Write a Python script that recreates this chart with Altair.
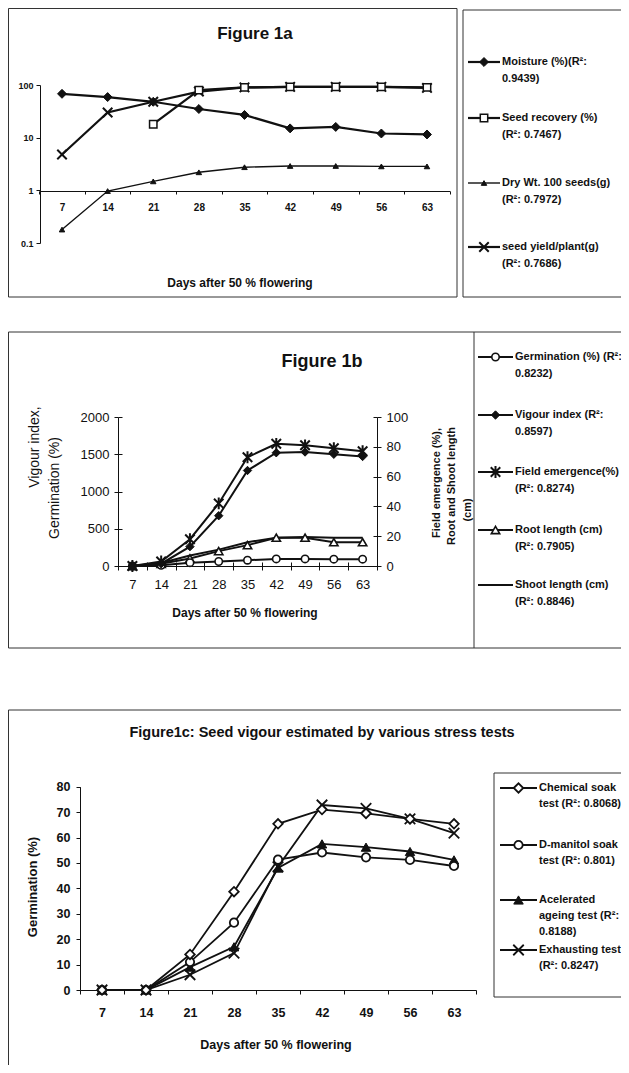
import altair as alt
import pandas as pd

# ---------------- data ----------------
days = [7, 14, 21, 28, 35, 42, 49, 56, 63]

# Figure 1a
moisture = [68, 59, 48, 35, 27, 15, 16, 12, 11.5]
recovery_days = [21, 28, 35, 42, 49, 56, 63]
seed_recovery = [18, 80, 90, 92, 92, 92, 90]
dry_wt = [0.18, 0.97, 1.48, 2.2, 2.75, 2.9, 2.9, 2.85, 2.85]
seed_yield = [4.8, 30, 48, 75, 90, 92, 92, 92, 88]

# Figure 1b
germination_b = [0, 10, 45, 60, 78, 95, 95, 92, 92]
vigour_index = [0, 31, 260, 675, 1282, 1520, 1530, 1500, 1470]
field_emergence = [0, 3, 18, 42, 73, 82, 81, 79, 77]
root_length = [0, 1.5, 5, 10, 14, 19, 19, 16, 16]
shoot_length = [0, 2, 7, 11, 16, 19, 19.5, 19, 19]

# Figure 1c
chemical_soak = [0, 0, 14, 38.7, 65.4, 71, 69.5, 67.3, 65.4]
d_manitol_soak = [0, 0, 11, 26.5, 51.3, 54.1, 52.2, 51.2, 48.8]
accelerated_ageing = [0, 0, 9, 17, 48, 57.5, 56.2, 54.5, 51.2]
exhausting = [0, 0, 6, 14.5, 48.5, 72.8, 71.5, 67.3, 61.7]

# tick values
log_ticks = [0.1, 1, 10, 100]
left_ticks_b = [0, 500, 1000, 1500, 2000]
right_ticks_b = [0, 20, 40, 60, 80, 100]
ticks_c = [0, 10, 20, 30, 40, 50, 60, 70, 80]
boundaries = [d - 3.5 for d in days] + [days[-1] + 3.5]

# texts
title_a = "Figure 1a"
title_b = "Figure 1b"
title_c = "Figure1c: Seed vigour estimated by various stress tests"
x_title = "Days after 50 % flowering"
legend_a = [["Moisture (%)(R\u00b2:", "0.9439)"],
            ["Seed recovery (%)", "(R\u00b2: 0.7467)"],
            ["Dry Wt. 100 seeds(g)", "(R\u00b2: 0.7972)"],
            ["seed yield/plant(g)", "(R\u00b2: 0.7686)"]]
legend_b = [["Germination (%) (R\u00b2:", "0.8232)"],
            ["Vigour index (R\u00b2:", "0.8597)"],
            ["Field emergence(%)", "(R\u00b2: 0.8274)"],
            ["Root length (cm)", "(R\u00b2: 0.7905)"],
            ["Shoot length (cm)", "(R\u00b2: 0.8846)"]]
legend_c = [["Chemical soak", "test (R\u00b2: 0.8068)"],
            ["D-manitol soak", "test (R\u00b2: 0.801)"],
            ["Acelerated", "ageing test (R\u00b2:", "0.8188)"],
            ["Exhausting test", "(R\u00b2: 0.8247)"]]

# ---------------- styling / layout ----------------
W, H = 613, 1057
FONT = "Liberation Sans"
INK = "#111111"
BOX = "#333333"
ONE = pd.DataFrame({"k": [0]})
X_PATH = "M-1,-1L1,1M-1,1L1,-1"
STAR_PATH = "M-1,-1L1,1M-1,1L1,-1M0,-1.25L0,1.25"


def marker_props(kind, shape, msw):
    if kind == "fill":
        return dict(shape=shape, filled=True, fill=INK, stroke=INK, strokeWidth=msw)
    if kind == "open":
        return dict(shape=shape, filled=True, fill="white", stroke=INK, strokeWidth=msw)
    return dict(shape=shape, filled=False, stroke=INK, strokeWidth=msw)


def series(xv, yv, xs, ys, sw, marker=None):
    df = pd.DataFrame({"day": xv, "v": yv})
    enc = dict(x=alt.X("day:Q", scale=xs, axis=None),
               y=alt.Y("v:Q", scale=ys, axis=None))
    out = [alt.Chart(df).mark_line(color=INK, strokeWidth=sw).encode(**enc)]
    if marker:
        kind, shape, size, msw = marker
        out.append(alt.Chart(df).mark_point(size=size, opacity=1,
                                            **marker_props(kind, shape, msw)).encode(**enc))
    return out


def x_axis_layer(data_vals, scale, **axis_kw):
    df = pd.DataFrame({"a": data_vals})
    return alt.Chart(df).mark_point(opacity=0).encode(
        x=alt.X("a:Q", scale=scale, axis=alt.Axis(grid=False, title=None, **axis_kw)))


def y_axis_layer(data_vals, scale, **axis_kw):
    df = pd.DataFrame({"a": data_vals})
    return alt.Chart(df).mark_point(opacity=0).encode(
        y=alt.Y("a:Q", scale=scale, axis=alt.Axis(grid=False, title=None, **axis_kw)))


def text(s, x, y, size, bold=True, align="center", angle=0):
    return alt.Chart(ONE).mark_text(
        text=s, font=FONT, fontSize=size, fontWeight="bold" if bold else "normal",
        color=INK, align=align, baseline="middle", angle=angle
    ).encode(x=alt.value(x), y=alt.value(y))


def box(x0, x1, y0, y1):
    return alt.Chart(ONE).mark_rect(fillOpacity=0, stroke=BOX, strokeWidth=1).encode(
        x=alt.value(x0), x2=alt.value(x1), y=alt.value(y0), y2=alt.value(y1))


def vline(x, y0, y1):
    return alt.Chart(ONE).mark_rule(color=BOX, strokeWidth=1).encode(
        x=alt.value(x), y=alt.value(y0), y2=alt.value(y1))


def legend(entries, markers, xl0, xl1, xt, rows, lh, size):
    out = []
    xm = (xl0 + xl1) / 2
    for lines, mk, ry in zip(entries, markers, rows):
        sw, marker = mk
        out.append(alt.Chart(ONE).mark_rule(color=INK, strokeWidth=sw).encode(
            x=alt.value(xl0), x2=alt.value(xl1), y=alt.value(ry)))
        if marker:
            kind, shape, msize, msw = marker
            out.append(alt.Chart(ONE).mark_point(size=msize, opacity=1,
                                                 **marker_props(kind, shape, msw)).encode(
                x=alt.value(xm), y=alt.value(ry)))
        for i, s in enumerate(lines):
            out.append(text(s, xt, ry + i * lh, size, align="left"))
    return out


layers = []

# ================= Figure 1a =================
xa = alt.Scale(domain=[3.5, 66.5], range=[31.2, 441.8], nice=False, zero=False)
ya = alt.Scale(type="log", domain=[0.1, 100], range=[235, 77], nice=False)
mk_a = {
    "moist": (2.2, ("fill", "diamond", 80, 1)),
    "recov": (2.2, ("open", "square", 55, 1.5)),
    "dry": (1.4, ("fill", "triangle-up", 30, 1)),
    "yield": (2.2, ("path", X_PATH, 90, 2)),
}
layers.append(box(0.5, 449, 0.5, 289))
layers.append(box(455, 640, 2, 289))
layers += series(days, dry_wt, xa, ya, *mk_a["dry"])
layers += series(days, moisture, xa, ya, *mk_a["moist"])
layers += series(days, seed_yield, xa, ya, *mk_a["yield"])
layers += series(recovery_days, seed_recovery, xa, ya, *mk_a["recov"])
# axes
layers.append(y_axis_layer(log_ticks, ya, orient="left", offset=-32, values=log_ticks,
                           format="~g", tickSize=4, tickColor=INK, domainColor=INK,
                           labelFont=FONT, labelFontSize=9, labelFontWeight="bold",
                           labelColor=INK, labelPadding=3, labelOverlap=False))
layers.append(x_axis_layer(boundaries, xa, orient="bottom", offset=183 - H,
                           values=boundaries, tickSize=3, tickColor=INK, domainColor=INK,
                           labels=False))
layers.append(x_axis_layer(days, xa, orient="bottom", offset=183 - H, values=days,
                           ticks=False, domain=False, labelFont=FONT, labelFontSize=10,
                           labelFontWeight="bold", labelColor=INK, labelPadding=11,
                           labelOverlap=False, labelFlush=False))
layers.append(text(title_a, 247, 26, 17))
layers.append(text(x_title, 232, 275, 12))
layers += legend(legend_a, [mk_a["moist"], mk_a["recov"], mk_a["dry"], mk_a["yield"]],
                 460, 492, 494, [54, 110, 175, 239], 17, 11)

# ================= Figure 1b =================
xb = alt.Scale(domain=[3.5, 66.5], range=[110, 369], nice=False, zero=False)
ybl = alt.Scale(domain=[0, 2000], range=[558, 409], nice=False, zero=False)
ybr = alt.Scale(domain=[0, 100], range=[558, 409], nice=False, zero=False)
mk_b = {
    "germ": (2, ("open", "circle", 55, 1.6)),
    "vig": (2, ("fill", "diamond", 70, 1)),
    "fe": (2, ("path", STAR_PATH, 90, 2)),
    "root": (2, ("open", "triangle-up", 70, 1.6)),
    "shoot": (2, None),
}
layers.append(box(0.5, 640, 324, 640))
layers.append(vline(466, 324, 640))
layers += series(days, shoot_length, xb, ybr, *mk_b["shoot"])
layers += series(days, root_length, xb, ybr, *mk_b["root"])
layers += series(days, germination_b, xb, ybl, *mk_b["germ"])
layers += series(days, vigour_index, xb, ybl, *mk_b["vig"])
layers += series(days, field_emergence, xb, ybr, *mk_b["fe"])
axis_font_b = dict(labelFont=FONT, labelFontSize=13, labelColor=INK, labelOverlap=False)
layers.append(y_axis_layer(left_ticks_b, ybl, orient="left", offset=-110, values=left_ticks_b,
                           format="d", tickSize=4, tickColor=INK, domainColor=INK,
                           labelPadding=5, **axis_font_b))
layers.append(y_axis_layer(left_ticks_b, ybl, orient="right", offset=110 - W,
                           values=left_ticks_b, tickSize=4, tickColor=INK, domain=False,
                           labels=False))
layers.append(y_axis_layer(right_ticks_b, ybr, orient="right", offset=369 - W,
                           values=right_ticks_b, format="d", tickSize=4, tickColor=INK,
                           domainColor=INK, labelPadding=5, **axis_font_b))
layers.append(y_axis_layer(right_ticks_b, ybr, orient="left", offset=-369,
                           values=right_ticks_b, tickSize=4, tickColor=INK, domain=False,
                           labels=False))
layers.append(x_axis_layer(boundaries, xb, orient="bottom", offset=558 - H, values=boundaries,
                           tickSize=4, tickColor=INK, domainColor=INK, labels=False))
layers.append(x_axis_layer(boundaries, xb, orient="top", offset=-558, values=boundaries,
                           tickSize=4, tickColor=INK, domain=False, labels=False))
layers.append(x_axis_layer(days, xb, orient="bottom", offset=558 - H, values=days,
                           ticks=False, domain=False, labelPadding=12, labelFlush=False,
                           **axis_font_b))
layers.append(text(title_b, 314, 354, 18))
layers.append(text(x_title, 237, 605, 12))
layers.append(text("Vigour index,", 27, 439, 14, bold=False, angle=270))
layers.append(text("Germination (%)", 47, 480, 14, bold=False, angle=270))
layers.append(text("Field emergence (%),", 429, 475, 11, angle=270))
layers.append(text("Root and Shoot length", 444, 478, 11, angle=270))
layers.append(text("(cm)", 460, 502, 11, angle=270))
layers += legend(legend_b, [mk_b["germ"], mk_b["vig"], mk_b["fe"], mk_b["root"], mk_b["shoot"]],
                 470, 505, 507, [349, 407, 464, 522, 577], 17, 11)

# ================= Figure 1c =================
xc = alt.Scale(domain=[3.5, 66.5], range=[72, 468], nice=False, zero=False)
yc = alt.Scale(domain=[0, 80], range=[982, 778.7], nice=False, zero=False)
mk_c = {
    "chem": (1.8, ("open", "diamond", 90, 1.8)),
    "dman": (1.8, ("open", "circle", 70, 1.8)),
    "accel": (1.8, ("fill", "triangle-up", 90, 1)),
    "exh": (1.8, ("path", X_PATH, 110, 1.8)),
}
layers.append(box(0.5, 640, 702, 1070))
layers.append(box(486, 640, 765, 989))
layers += series(days, exhausting, xc, yc, *mk_c["exh"])
layers += series(days, accelerated_ageing, xc, yc, *mk_c["accel"])
layers += series(days, d_manitol_soak, xc, yc, *mk_c["dman"])
layers += series(days, chemical_soak, xc, yc, *mk_c["chem"])
axis_font_c = dict(labelFont=FONT, labelFontSize=12.5, labelFontWeight="bold",
                   labelColor=INK, labelOverlap=False)
layers.append(y_axis_layer(ticks_c, yc, orient="left", offset=-72, values=ticks_c,
                           tickSize=4, tickColor=INK, domainColor=INK, labelPadding=6,
                           **axis_font_c))
layers.append(x_axis_layer(boundaries, xc, orient="bottom", offset=982 - H, values=boundaries,
                           tickSize=4, tickColor=INK, domainColor=INK, labels=False))
layers.append(x_axis_layer(days, xc, orient="bottom", offset=982 - H, values=days,
                           ticks=False, domain=False, labelPadding=16, labelFlush=False,
                           **axis_font_c))
layers.append(text(title_c, 314, 725, 14.5))
layers.append(text("Germination (%)", 25, 879, 13, angle=270))
layers.append(text(x_title, 268, 1037, 12.5))
layers += legend(legend_c, [mk_c["chem"], mk_c["dman"], mk_c["accel"], mk_c["exh"]],
                 492, 529, 531, [780, 837, 892, 942], 16, 11)

chart = (
    alt.layer(*layers)
    .resolve_scale(x="independent", y="independent")
    .properties(width=W, height=H, autosize=alt.AutoSizeParams(type="none"), padding=0)
    .configure_view(strokeWidth=0)
    .configure_axis(grid=False)
)

chart.save("out.html", embed_options={"renderer": "svg", "actions": False})
